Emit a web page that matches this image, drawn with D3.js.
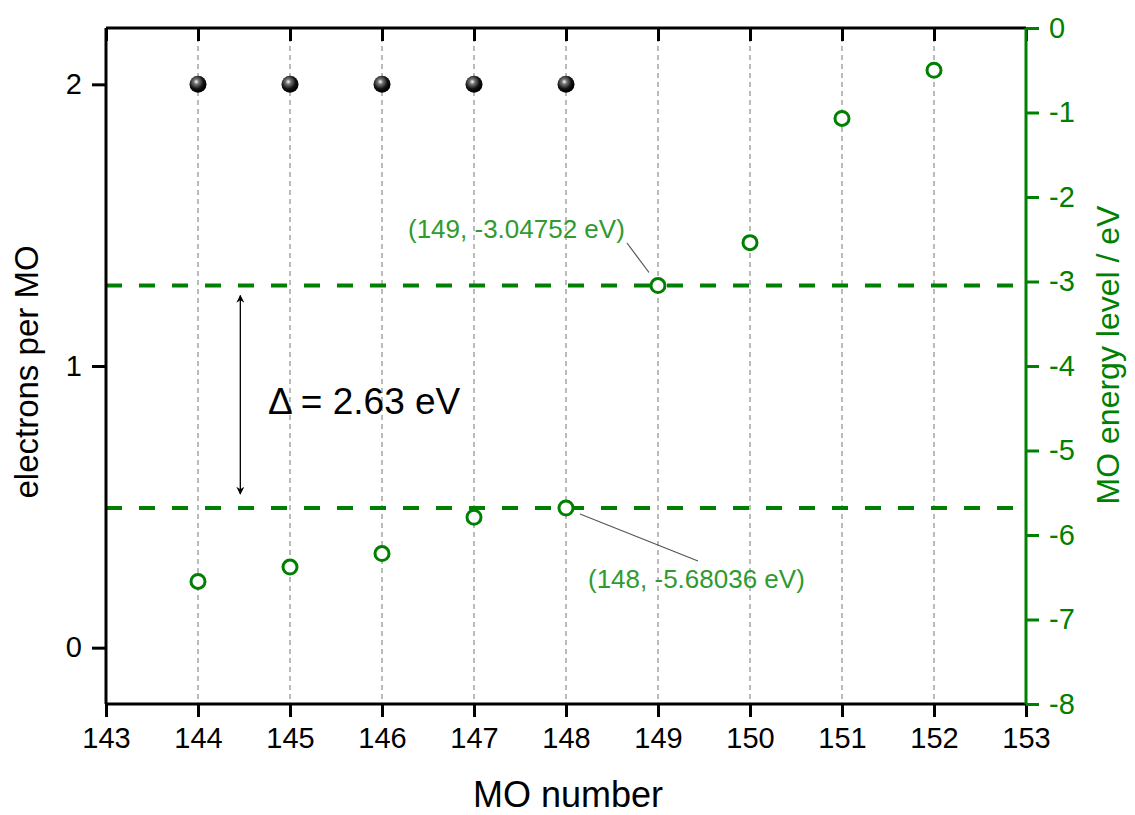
<!DOCTYPE html>
<html>
<head>
<meta charset="utf-8">
<script src="https://cdn.jsdelivr.net/npm/d3@7"></script>
<style>
  body { margin: 0; background: #fff; }
  svg { font-family: Arial, "Liberation Sans", Helvetica, sans-serif; }
</style>
</head>
<body>
<div id="container"></div>
<script>
// data
const moNumbers = [144, 145, 146, 147, 148, 149, 150, 151, 152];
const energies = [-6.55, -6.38, -6.22, -5.79, -5.68036, -3.04752, -2.54, -1.07, -0.5];
const occupiedMOs = [144, 145, 146, 147, 148];
const electrons = [2, 2, 2, 2, 2];
const homoLumo = [-5.68036, -3.04752];
const xTicks = [143, 144, 145, 146, 147, 148, 149, 150, 151, 152, 153];
const leftTicks = [0, 1, 2];
const rightTicks = [0, -1, -2, -3, -4, -5, -6, -7, -8];

const W = 1135, H = 815;
const margin = { top: 28, right: 109, bottom: 111, left: 106 };
const green = "#008000";
const labelGreen = "#2f9a2f";

const svg = d3.select("#container").append("svg")
  .attr("width", W).attr("height", H);

const x = d3.scaleLinear().domain([143, 153]).range([margin.left, W - margin.right]);
const yL = d3.scaleLinear().domain([-0.2, 2.2]).range([H - margin.bottom, margin.top]);
const yR = d3.scaleLinear().domain([-8, 0]).range([H - margin.bottom, margin.top]);

// gradient for the black balls
const defs = svg.append("defs");
const grad = defs.append("radialGradient").attr("id", "ball")
  .attr("cx", "40%").attr("cy", "35%").attr("r", "60%");
grad.append("stop").attr("offset", "0%").attr("stop-color", "#ffffff");
grad.append("stop").attr("offset", "25%").attr("stop-color", "#777");
grad.append("stop").attr("offset", "70%").attr("stop-color", "#111");
grad.append("stop").attr("offset", "100%").attr("stop-color", "#000");

defs.append("marker").attr("id", "arrowhead")
  .attr("viewBox", "0 0 10 10").attr("refX", 9).attr("refY", 5)
  .attr("markerWidth", 8).attr("markerHeight", 8)
  .attr("markerUnits", "userSpaceOnUse")
  .attr("orient", "auto-start-reverse")
  .append("path").attr("d", "M0,0 L10,5 L0,10 L3,5 Z").attr("fill", "#000");

// vertical grid
svg.append("g")
  .selectAll("line")
  .data(moNumbers)
  .enter()
  .append("line")
  .attr("x1", d => x(d)).attr("x2", d => x(d))
  .attr("y1", margin.top).attr("y2", H - margin.bottom)
  .attr("stroke", "#777")
  .attr("stroke-width", 1)
  .attr("stroke-dasharray", "5,4");

// HOMO / LUMO lines
svg.append("g")
  .selectAll("line")
  .data(homoLumo)
  .enter()
  .append("line")
  .attr("x1", margin.left).attr("x2", W - margin.right)
  .attr("y1", d => yR(d)).attr("y2", d => yR(d))
  .attr("stroke", green)
  .attr("stroke-width", 4)
  .attr("stroke-dasharray", "16,17");

// gap arrow
const arrowX = x(144.46);
svg.append("line")
  .attr("x1", arrowX).attr("x2", arrowX)
  .attr("y1", yR(homoLumo[1]) + 10).attr("y2", yR(homoLumo[0]) - 14)
  .attr("stroke", "#000").attr("stroke-width", 1.3)
  .attr("marker-start", "url(#arrowhead)")
  .attr("marker-end", "url(#arrowhead)");

svg.append("text")
  .attr("x", x(144.76))
  .attr("y", yR((homoLumo[0] + homoLumo[1]) / 2) + 17)
  .style("font-size", "37px")
  .attr("fill", "#000")
  .text("\u0394 = 2.63 eV");

// leader lines + annotations
svg.append("line")
  .attr("x1", 627).attr("y1", 243)
  .attr("x2", x(149) - 9).attr("y2", yR(-3.04752) - 13)
  .attr("stroke", "#555").attr("stroke-width", 1.2);
svg.append("text")
  .attr("x", 408).attr("y", 238)
  .style("font-size", "26px").attr("fill", labelGreen)
  .text("(149, -3.04752 eV)");

svg.append("line")
  .attr("x1", x(148) + 14).attr("y1", yR(-5.68036) + 6)
  .attr("x2", 698).attr("y2", 561)
  .attr("stroke", "#555").attr("stroke-width", 1.2);
svg.append("text")
  .attr("x", 588).attr("y", 588)
  .style("font-size", "26px").attr("fill", labelGreen)
  .text("(148, -5.68036 eV)");

// energy points
svg.append("g")
  .selectAll("circle")
  .data(moNumbers)
  .enter()
  .append("circle")
  .attr("cx", d => x(d))
  .attr("cy", (d, i) => yR(energies[i]))
  .attr("r", 7)
  .attr("fill", "#fff")
  .attr("stroke", green)
  .attr("stroke-width", 3);

// electrons
svg.append("g")
  .selectAll("circle")
  .data(occupiedMOs)
  .enter()
  .append("circle")
  .attr("cx", d => x(d))
  .attr("cy", (d, i) => yL(electrons[i]))
  .attr("r", 8.5)
  .attr("fill", "url(#ball)");

// axes
const fmt = d => String(d);
const bottomAxis = svg.append("g")
  .attr("transform", `translate(0,${H - margin.bottom})`)
  .call(d3.axisBottom(x).tickValues(xTicks).tickSize(13).tickPadding(10).tickFormat(fmt));

const topAxis = svg.append("g")
  .attr("transform", `translate(0,${margin.top})`)
  .call(d3.axisBottom(x).tickValues(xTicks).tickSize(13).tickFormat(""));

const leftAxis = svg.append("g")
  .attr("transform", `translate(${margin.left},0)`)
  .call(d3.axisLeft(yL).tickValues(leftTicks).tickSize(14).tickPadding(10).tickFormat(fmt));

const rightAxis = svg.append("g")
  .attr("transform", `translate(${W - margin.right},0)`)
  .call(d3.axisRight(yR).tickValues(rightTicks).tickSize(13).tickPadding(10).tickFormat(fmt));

[bottomAxis, topAxis, leftAxis].forEach(g => {
  g.select(".domain").attr("stroke", "#000").attr("stroke-width", 3);
  g.selectAll(".tick line").attr("stroke", "#000").attr("stroke-width", 3);
  g.selectAll(".tick text").attr("fill", "#000").style("font-size", "29px")
    .style("font-family", "Arial, 'Liberation Sans', sans-serif");
});
rightAxis.select(".domain").attr("stroke", green).attr("stroke-width", 3);
rightAxis.selectAll(".tick line").attr("stroke", green).attr("stroke-width", 3);
rightAxis.selectAll(".tick text").attr("fill", green).style("font-size", "29px")
  .style("font-family", "Arial, 'Liberation Sans', sans-serif");
// plain domain lines, no end caps
[bottomAxis, topAxis].forEach(g => g.select(".domain")
  .attr("d", `M${margin.left},0H${W - margin.right}`));
[leftAxis, rightAxis].forEach(g => g.select(".domain")
  .attr("d", `M0,${margin.top}V${H - margin.bottom}`));

// axis titles
svg.append("text")
  .attr("x", (margin.left + W - margin.right) / 2 + 2)
  .attr("y", 807)
  .attr("text-anchor", "middle")
  .style("font-size", "36px")
  .text("MO number");

svg.append("text")
  .attr("transform", `translate(38,372) rotate(-90)`)
  .attr("text-anchor", "middle")
  .style("font-size", "33px")
  .text("electrons per MO");

svg.append("text")
  .attr("transform", `translate(1119,355) rotate(-90)`)
  .attr("text-anchor", "middle")
  .style("font-size", "32px")
  .attr("fill", green)
  .text("MO energy level / eV");
</script>
</body>
</html>
